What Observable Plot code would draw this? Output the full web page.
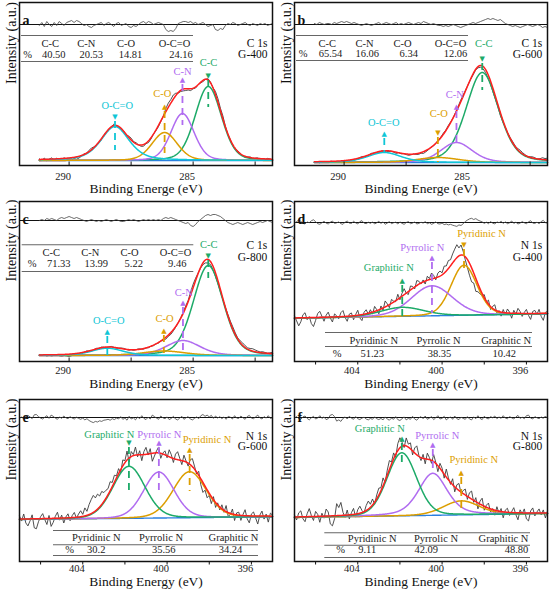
<!DOCTYPE html>
<html>
<head>
<meta charset="utf-8">
<script src="https://cdn.jsdelivr.net/npm/d3@7"></script>
<script src="https://cdn.jsdelivr.net/npm/@observablehq/plot@0.6"></script>
<style>
html,body{margin:0;padding:0;background:#fff;}
#fig{position:relative;width:550px;height:593px;overflow:hidden;background:#fff;font-family:'Liberation Serif';}
#fig svg{position:absolute;overflow:visible;}
</style>
</head>
<body>
<div id="fig"></div>
<script>
// ================= DATA =================
// categories
const cNames = ["C-C", "C-N", "C-O", "O-C=O"];
const nNames = ["Pyridinic N", "Pyrrolic N", "Graphitic N"];
const samples = ["G-400", "G-600", "G-800"];

// tick labels (eV)
const cTicks = [290, 285];
const cMinorTicks = [290, 287.5, 285, 282.5];
const nTicks = [404, 400, 396];
const nMinorTicks = [406, 404, 402, 400, 398, 396];

// table values (%)
const shareA = ["40.50", "20.53", "14.81", "24.16"];
const shareB = ["65.54", "16.06", "6.34", "12.06"];
const shareC = ["71.33", "13.99", "5.22", "9.46"];
const shareD = ["51.23", "38.35", "10.42"];
const shareE = ["30.2", "35.56", "34.24"];
const shareF = ["9.11", "42.09", "48.80"];

// fitted peaks: centre (eV), height (a.u.), FWHM (eV), Lorentzian fraction
const centerA = [284.39, 285.43, 286.15, 288.15];
const heightA = [74, 47, 28, 34];
const fwhmA = [1.25, 1.1, 1.2, 1.35];
const mixA = [0.2, 0.2, 0.2, 0.5];

const centerB = [284.43, 285.47, 286.22, 288.38];
const heightB = [90, 20, 5, 10];
const fwhmB = [1.55, 1.5, 2.0, 1.6];
const mixB = [0.3, 0.3, 0.3, 0.4];

const centerC = [284.39, 285.41, 286.18, 288.46];
const heightC = [90, 15, 4.5, 7.3];
const fwhmC = [1.42, 1.62, 2.0, 1.5];
const mixC = [0.25, 0.3, 0.3, 0.4];

const centerD = [398.96, 400.48, 401.89];
const heightD = [50, 30, 9];
const fwhmD = [1.45, 2.3, 2.4];
const mixD = [0.15, 0.15, 0.15];

const centerE = [398.93, 400.39, 401.81];
const heightE = [46, 46, 52];
const fwhmE = [1.85, 1.7, 1.8];
const mixE = [0.15, 0.15, 0.15];

const centerF = [399.09, 400.44, 401.91];
const heightF = [14, 42, 63];
const fwhmF = [2.0, 1.6, 1.65];
const mixF = [0.15, 0.4, 0.15];

// background level (a.u.) at the high / low binding-energy ends
const backA = [5, 5], backB = [3, 3], backC = [6, 6];
const backD = [43.3, 47.7], backE = [42, 44.7], backF = [44, 48];

// C 1s residuals (fit - data), every 0.1 eV from 291.2 to 281.8 eV
const resA = [-1,2,-2,3,0,-2,2,-1,3,1,-1,2, 3,4,2,4,3, 1,-1,0,-2,-3,-1,0,1,
  2,-1,1,2,0,-2,1,2,-1,0,1, -2,-3,-1,-2,0, 2,3,1,3,2,0,1,2,1,0, -5,-7,-6,-7,-4,
  1,2,3,3,2,3,1,2,0,1,2, 0,-2,-1,0, -5,-6,-4,-5,
  -1,1,0,2,1,-1,0,1,2,0,-1,1,0,-1,1,0,1,-1,0,1];
const resB = [1,0,2,1,0,1,1,0, 2,1,2,3,2,3,2,1,2,
  1,0,-1,0,1,0,-1,0,1,2,0,1,2,1,0,1,2,0,1,0,1,2,1,0,1,2,1,3,2,1,0,1,0,
  -1,-1,-2,-1,-2,-1,0,-1,-2,-3,-2,-1, 0,1,2,1,2,3,4,5, 6,5,6,5,4,5,3,1,
  0,-1,-2,-1,-2,-3,-2,-1,0,-1,-2,-1,0,-1,-3,-2,-3];
const resC = [0,1,0,2,1,2,1,0, 2,3,2,3,4,3,2,3,2,1,
  0,-1,0,1,0,-1,0,-1,0,1,0,-1,0,1,0,-1,-1,0,1,0,1,0,-1,0,1,0,1,0,1,0,1,0,
  2,3,2,3,2,1,0, -1,-2,-3,-2, -5,-6,-4, -1,1,3, 5,6,5,6,6,5,4,2, 0,
  -2,-3,-4,-3,-2,-3,-4,-3,-2,-3,-4,-3,-2,-1, -2,-1,0,-1,-2];

// N 1s deviations (data - fit), every 0.1 eV from 407.0 to 395.0 eV
const devD = [2,-3,-8,-4,3,5,-2,1,-6,-9,-3,4,6,1,-4,2,5,-1,-5,3,1,
  -2,4,6,-1,-5,2,3,-4,1,5,-3,-6,2,4,-1,3,-2,5,1,-4,
  3,-2,6,2,-3,4,1,-1,5,-2,3,6,0,-3,4,2,-2,5,3,-1,
  2,-3,4,1,6,3,-2,4,5,2,7,5,8,6,9, 11,13,8,10,4, -3,-8,-12,-14,-10,-13,-8,-5,
  -2,3,-1,4,-3,2,5,-2,1,-4,3,
  -2,4,1,-5,3,-1,5,2,-3,1,4,-2,-6,2,3,-1,4,-3,-7,1,2];
const devE = [3,-2,5,-4,-7,-2,4,-9,-10,-3,2,5,-1,-6,3,-8,-4,2,6,-2,3,-5,1,4,-3,2,
  5,-1,3,6,2,8,4,10, 14,17,13,15,11,13,9,8, 6,9,4,7,2,5,
  -3,6,2,9,-4,5,1,8,-2,4,-6,3,7,-1,5,-8,-3,2,6,-5,1,4,-2,7,3,-4,5,8,
  2,-4,6,1,-3,5,8,3,-2,4, -6,-10,-4,-8,-2,-7,3,-5,2,-3,
  4,-2,6,-4,-1,5,-6,2,3,-5,1,6,-3,-7,2,4,-2,-8,1,5,-3,2,-6,3,1];
const devF = [2,-3,4,6,-2,-5,3,8,1,-4,5,2,-6,3,-2,7,4,-8,-10,-3,12,
  8,13,3,-2,5,-4,2,6,-3,4,7,2,-1,5,8,3,6,-2,4,7,
  3,8,-2,5,9,2,6,-3,7,10,4,-2,8,3,6,-4,5,9,1,-3,
  4,-5,6,2,-3,7,1,-6,5,3,-4,8,2,-2,6,-5,4,7,-1,3,
  6,-3,5,8,-2,4,-6,3,7,-4,2,5,-3,1,-5,4,-2,3,-6,2,
  4,-3,1,5,-2,-7,3,-1,4,-6,-8,2,5,-3,1,4,-2,3,-5,2];

// ================= STYLE / LAYOUT =================
const FONT = "'Liberation Serif'";
const GREEN = "#1daa68", PURPLE = "#b06cf0", GOLD = "#dc9e00", CYAN = "#0fc6d6";
const cColors = [GREEN, PURPLE, GOLD, CYAN];
const nColors = [GOLD, PURPLE, GREEN];

const panels = [
  {id: "a", core: "C 1s", sample: samples[0], names: cNames, colors: cColors, share: shareA,
   center: centerA, height: heightA, fwhm: fwhmA, mix: mixA, back: backA, dev: resA, mode: "res",
   domain: [292, 281.8], start: 291.2, ticks: cTicks, minor: cMinorTicks, tickDir: 1,
   xlabel: "Binding Energe (eV)",
   L: {left: 0, top: 0, mt: 2, H: 163, mb: 34, tickPad: 7, xlabDy: 27, resZero: 141,
       coreX: 267, coreY: [43.3, 54.3],
       tabLines: [35, 61], tabX: [21, 193], headY: 43, valY: 54,
       headX: [49.7, 85.8, 125.5, 174], pctX: 27, valX: [53.3, 90.7, 130, 180.5],
       labX: [208, 182, 161.7, 116.7], labY: [62, 70.7, 92.7, 105],
       arrY: [75, 79, 106.7, 116.7], dir: [-1, 1, 1, -1],
       dash: [[80, 107], [84, 125], [111, 153], [121, 150]]}},
  {id: "b", core: "C 1s", sample: samples[1], names: cNames, colors: cColors, share: shareB,
   center: centerB, height: heightB, fwhm: fwhmB, mix: mixB, back: backB, dev: resB, mode: "res",
   domain: [292, 281.8], start: 291.2, ticks: cTicks, minor: cMinorTicks, tickDir: 1,
   xlabel: "Binding Energe (eV)",
   L: {left: 275, top: 0, mt: 2, H: 163, mb: 34, tickPad: 7, xlabDy: 27, resZero: 141,
       coreX: 541.7, coreY: [43, 54],
       tabLines: [35, 60], tabX: [296, 468], headY: 42.7, valY: 53.3,
       headX: [326.7, 364, 402, 450], pctX: 302.7, valX: [330, 366.7, 408.3, 455],
       labX: [483.3, 454.3, 438.3, 383.3], labY: [43.3, 94.3, 113.3, 122.3],
       arrY: [58.3, 106, 132.7, 133.3], dir: [-1, 1, -1, 1],
       dash: [[63, 90], [111, 145], [137, 162], [138, 152]]}},
  {id: "c", core: "C 1s", sample: samples[2], names: cNames, colors: cColors, share: shareC,
   center: centerC, height: heightC, fwhm: fwhmC, mix: mixC, back: backC, dev: resC, mode: "res",
   domain: [292, 281.8], start: 291.2, ticks: cTicks, minor: cMinorTicks, tickDir: 1,
   xlabel: "Binding Energy (eV)",
   L: {left: 0, top: 199, mt: 2, H: 160, mb: 35, tickPad: 5.5, xlabDy: 26, resZero: 141,
       coreX: 266.7, coreY: [245, 256.7],
       tabLines: [244.3, 271], tabX: [21.7, 193.3], headY: 252.3, valY: 263.3,
       headX: [50.8, 89.7, 129, 175], pctX: 31.7, valX: [58.3, 95.8, 133.3, 176.7],
       labX: [208.3, 183.3, 164, 108.3], labY: [244.3, 292.3, 318.3, 320],
       arrY: [255, 302.3, 330, 331.7], dir: [-1, 1, 1, 1],
       dash: [[260, 278], [307, 352], [335, 353], [336, 358]]}},
  {id: "d", core: "N 1s", sample: samples[0], names: nNames, colors: nColors, share: shareD,
   center: centerD, height: heightD, fwhm: fwhmD, mix: mixD, back: backD, dev: devD, mode: "dev",
   domain: [407, 395], start: 407, ticks: nTicks, minor: nMinorTicks, tickDir: -1,
   xlabel: "Binding Energy (eV)",
   L: {left: 275, top: 199, mt: 2, H: 160, mb: 35, tickPad: 5.5, xlabDy: 26, resZero: 139,
       coreX: 541.7, coreY: [245, 256.7],
       tabLines: [332, 346], tabX: [325, 532], headY: 340, valY: 353.5,
       headX: [373.3, 438, 505.7], pctX: 336.7, valX: [371.7, 439, 503.7],
       labX: [481, 421.7, 388.3], labY: [233.3, 246.7, 266.7],
       arrY: [244, 257.7, 280.7], dir: [-1, 1, 1],
       dash: [[249, 273], [262, 313], [285, 320]]}},
  {id: "e", core: "N 1s", sample: samples[1], names: nNames, colors: nColors, share: shareE,
   center: centerE, height: heightE, fwhm: fwhmE, mix: mixE, back: backE, dev: devE, mode: "dev",
   domain: [407, 395], start: 407, ticks: nTicks, minor: nMinorTicks, tickDir: -1,
   xlabel: "Binding Energy (eV)",
   L: {left: 0, top: 396, mt: 3, H: 162, mb: 32, tickPad: 3.5, xlabDy: 24, resZero: 144,
       coreX: 266.7, coreY: [435.7, 446.3],
       tabLines: [530, 544.3, 555], tabX: [53, 258], headY: 536.7, valY: 549.3,
       headX: [95.8, 160.5, 233], pctX: 69, valX: [95.8, 163.3, 230],
       labX: [206.5, 158.8, 108.8], labY: [438.7, 434, 434],
       arrY: [449, 442, 442.3], dir: [1, 1, -1],
       dash: [[454, 491], [447, 491], [447, 494]]}},
  {id: "f", core: "N 1s", sample: samples[2], names: nNames, colors: nColors, share: shareF,
   center: centerF, height: heightF, fwhm: fwhmF, mix: mixF, back: backF, dev: devF, mode: "dev",
   domain: [407, 395], start: 407, ticks: nTicks, minor: nMinorTicks, tickDir: -1,
   xlabel: "Binding Energe (eV)",
   L: {left: 275, top: 396, mt: 3, H: 162, mb: 32, tickPad: 3.5, xlabDy: 24, resZero: 144,
       coreX: 541.7, coreY: [435.7, 446.3],
       tabLines: [532.3, 544.7, 557], tabX: [324.3, 530], headY: 538, valY: 549,
       headX: [371.7, 435.5, 503], pctX: 340, valX: [366.7, 425.8, 516],
       labX: [473.3, 436.7, 379.3], labY: [458.7, 434.7, 428],
       arrY: [472.3, 444, 438], dir: [1, 1, 1],
       dash: [[477, 511], [449, 468], [443, 466]]}}
];

// pseudo-Voigt peak shape
function pv(x, c, h, w, m) {
  const t = (x - c) / w;
  return h * ((1 - m) * Math.exp(-4 * Math.LN2 * t * t) + m / (1 + 4 * t * t));
}

const fig = document.getElementById("fig");

function draw(p) {
  const L = p.L, W = 275, ml = 19, mr = 3;
  const height = L.mt + L.H + L.mb;
  const xs = d3.scaleLinear().domain(p.domain).range([L.left + ml, L.left + W - mr]);
  const ev = px => xs.invert(px);
  const bottom = L.top + L.mt + L.H;
  const iv = py => bottom - py;
  const [d0, d1] = p.domain;
  const base = x => p.back[0] + (p.back[1] - p.back[0]) * (x - d0) / (d1 - d0);
  const comp = (k, x) => pv(x, p.center[k], p.height[k], p.fwhm[k], p.mix[k]);
  const fit = x => base(x) + p.center.reduce((s, _, k) => s + comp(k, x), 0);
  const nGrid = Math.round((p.start - d1) / 0.02);
  const grid = d3.range(nGrid + 1).map(i => p.start - i * 0.02);
  const step = 0.1;
  const raw = p.dev.map((v, i) => {
    const x = p.start - i * step;
    return {x, y: fit(x) + (p.mode === "res" ? -0.6 * v : v)};
  });
  const resid = p.dev.map((v, i) => ({x: p.start - i * step, y: L.resZero + (p.mode === "res" ? v : -0.3 * v)}));

  const marks = [];
  marks.push(Plot.ruleY([L.resZero], {stroke: "#111", strokeWidth: 1.1}));
  marks.push(Plot.line(resid, {x: "x", y: "y", stroke: "#444", strokeWidth: 0.8}));
  marks.push(Plot.line(raw, {x: "x", y: "y", stroke: "#3c3c3c", strokeWidth: 0.9}));
  marks.push(Plot.line(grid.map(x => ({x, y: base(x)})), {x: "x", y: "y", stroke: "#2a7fe0", strokeWidth: 1.4}));
  p.center.forEach((c, k) => {
    marks.push(Plot.line(grid.map(x => ({x, y: base(x) + comp(k, x)})),
      {x: "x", y: "y", stroke: p.colors[k], strokeWidth: 1.5}));
  });
  marks.push(Plot.line(grid.map(x => ({x, y: fit(x)})), {x: "x", y: "y", stroke: "#ff1f1f", strokeWidth: 1.5}));
  p.center.forEach((c, k) => {
    marks.push(Plot.ruleX([{x: c, y1: iv(L.dash[k][0]), y2: iv(L.dash[k][1])}],
      {x: "x", y1: "y1", y2: "y2", stroke: p.colors[k], strokeWidth: 1.8, strokeDasharray: "7,5"}));
    marks.push(Plot.text([{x: c, y: iv(L.arrY[k]), t: L.dir[k] > 0 ? "▲" : "▼"}],
      {x: "x", y: "y", text: "t", fill: p.colors[k], fontSize: 7, fontFamily: "DejaVu Sans"}));
    marks.push(Plot.text([{x: ev(L.labX[k]), y: iv(L.labY[k]), t: p.names[k]}],
      {x: "x", y: "y", text: "t", fill: p.colors[k], fontSize: 10.5, fontFamily: FONT}));
  });
  marks.push(Plot.ruleY(L.tabLines.map(py => ({y: iv(py)})),
    {y: "y", x1: ev(L.tabX[0]), x2: ev(L.tabX[1]), stroke: "#666", strokeWidth: 1.1}));
  const cells = p.names.map((n, k) => ({x: ev(L.headX[k]), y: iv(L.headY), t: n}))
    .concat([{x: ev(L.pctX), y: iv(L.valY), t: "%"}])
    .concat(p.share.map((v, k) => ({x: ev(L.valX[k]), y: iv(L.valY), t: v})));
  marks.push(Plot.text(cells, {x: "x", y: "y", text: "t", fill: "#222", fontSize: 10.5, fontFamily: FONT}));
  marks.push(Plot.text([{x: ev(L.coreX), y: iv(L.coreY[0]), t: p.core}, {x: ev(L.coreX), y: iv(L.coreY[1]), t: p.sample}],
    {x: "x", y: "y", text: "t", textAnchor: "end", fill: "#111", fontSize: 11.5, fontFamily: FONT}));
  marks.push(Plot.text([p.id], {frameAnchor: "top-left", dx: 3, dy: 13, textAnchor: "start",
    fontWeight: "bold", fontSize: 14, fill: "#111", fontFamily: FONT}));
  marks.push(Plot.text(["Intensity (a.u.)"], {frameAnchor: "left", dx: -8, rotate: -90,
    fontSize: 14, fill: "#111", fontFamily: FONT}));
  marks.push(Plot.text([p.xlabel], {frameAnchor: "bottom", dy: L.xlabDy, fontSize: 13.5, fill: "#111", fontFamily: FONT}));
  marks.push(Plot.ruleX(p.minor, {y1: 0, y2: p.tickDir * 3.5, stroke: "#111", strokeWidth: 1}));
  marks.push(Plot.axisX(p.ticks, {tickSize: 0, tickPadding: L.tickPad, fontSize: 10.5, dx: -6,
    label: null, fill: "#222", fontFamily: FONT}));
  marks.push(Plot.frame({stroke: "#111", strokeWidth: 1.5}));

  const svg = Plot.plot({
    width: W, height,
    marginLeft: ml, marginRight: mr, marginTop: L.mt, marginBottom: L.mb,
    x: {domain: p.domain, axis: null, label: null},
    y: {domain: [0, L.H], axis: null, label: null},
    style: "background: transparent; overflow: visible; font-family: 'Liberation Serif';",
    marks
  });
  svg.style.left = L.left + "px";
  svg.style.top = L.top + "px";
  svg.querySelectorAll("text").forEach(t => {
    if (!/[▲▼]/.test(t.textContent)) t.style.fontFamily = "'Liberation Serif'";
  });
  fig.appendChild(svg);
}

panels.forEach(draw);
</script>
</body>
</html>
